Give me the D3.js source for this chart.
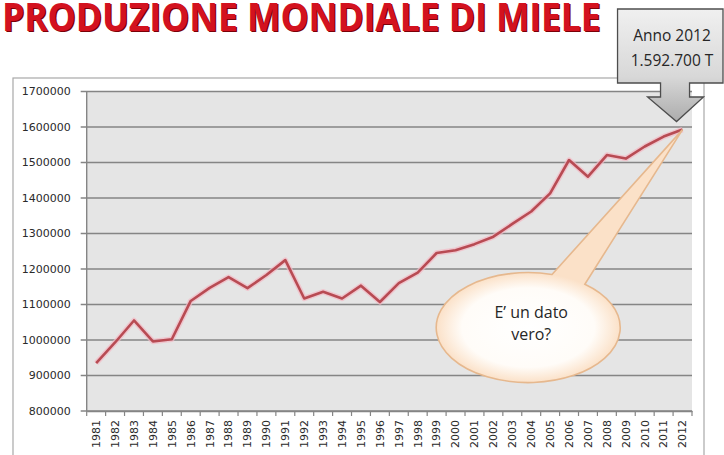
<!DOCTYPE html>
<html lang="it">
<head>
    <meta charset="utf-8">
    <title>Produzione mondiale di miele</title>
    <script src="https://d3js.org/d3.v7.min.js"></script>
    <style>
        body { margin: 0; background: #fff; }
        svg { display: block; }
        .title { font-family: "Open Sans", sans-serif; font-weight: 700; font-size: 40px; }
        .tick-label { font-family: "DejaVu Sans", sans-serif; font-size: 11px; fill: #2a2a2a; }
        .callout { font-family: "Open Sans", sans-serif; font-size: 15.5px; fill: #262626; }
    </style>
</head>
<body>
<svg id="chart"></svg>

<script>
    // years on the x axis
    const years = ["1981", "1982", "1983", "1984", "1985", "1986", "1987", "1988",
                   "1989", "1990", "1991", "1992", "1993", "1994", "1995", "1996",
                   "1997", "1998", "1999", "2000", "2001", "2002", "2003", "2004",
                   "2005", "2006", "2007", "2008", "2009", "2010", "2011", "2012"];

    // world honey production (tonnes)
    const production = [935000, 993000, 1055000, 996000, 1002000, 1110000, 1147000, 1177000,
                        1146000, 1183000, 1225000, 1117000, 1136000, 1117000, 1153000, 1107000,
                        1160000, 1190000, 1245000, 1253000, 1270000, 1291000, 1327000, 1362000,
                        1413000, 1507000, 1460000, 1521000, 1511000, 1545000, 1573000, 1592700];

    // y tick values
    const yTicks = [800000, 900000, 1000000, 1100000, 1200000, 1300000,
                    1400000, 1500000, 1600000, 1700000];

    const titleText = "PRODUZIONE MONDIALE DI MIELE";
    const calloutLines = ["Anno 2012", "1.592.700 T"];
    const bubbleLines = ["E\u2019 un dato", "vero?"];

    const W = 724, H = 455;
    const plot = {left: 86.7, right: 692, top: 91.5, bottom: 411};

    const svg = d3.select("#chart").attr("width", W).attr("height", H);

    const x = d3.scaleBand().domain(years).range([plot.left, plot.right]);
    const y = d3.scaleLinear().domain([800000, 1700000]).range([plot.bottom, plot.top]);
    const cx = d => x(d) + x.bandwidth() / 2;

    const defs = svg.append("defs");
    const boxGrad = defs.append("linearGradient").attr("id", "boxGrad")
        .attr("x1", 0).attr("y1", 0).attr("x2", 0).attr("y2", 1);
    boxGrad.append("stop").attr("offset", "0%").attr("stop-color", "#f0f0f0");
    boxGrad.append("stop").attr("offset", "60%").attr("stop-color", "#d8d8d8");
    boxGrad.append("stop").attr("offset", "100%").attr("stop-color", "#acacac");

    // title: squeezed horizontally to the width of the picture's title
    function title(fill, dx, dy) {
        const t = svg.append("text").attr("class", "title")
            .attr("fill", fill).text(titleText);
        const len = t.node().getComputedTextLength();
        t.attr("transform", `translate(${2 + dx},${31 + dy}) scale(${599 / len},1)`);
    }
    title("#7a0008", 1.2, 1.2);
    title("#d3121f", 0, 0);

    // chart frame
    svg.append("rect")
        .attr("x", 13).attr("y", 78)
        .attr("width", 691).attr("height", 400)
        .attr("fill", "#fff").attr("stroke", "#a8a8a8").attr("stroke-width", 1.2);

    // plot area
    svg.append("rect")
        .attr("x", plot.left).attr("y", plot.top)
        .attr("width", plot.right - plot.left).attr("height", plot.bottom - plot.top)
        .attr("fill", "#e5e5e5");

    // gridlines + y ticks
    svg.append("g").selectAll("line").data(yTicks).join("line")
        .attr("x1", plot.left - 6).attr("x2", plot.right)
        .attr("y1", d => y(d)).attr("y2", d => y(d))
        .attr("stroke", "#858585").attr("stroke-width", 1.4);

    svg.append("g").selectAll("text").data(yTicks).join("text")
        .attr("class", "tick-label")
        .attr("x", plot.left - 16).attr("y", d => y(d))
        .attr("dy", "0.35em").attr("text-anchor", "end")
        .text(d => d);

    // axes lines
    svg.append("line")
        .attr("x1", plot.left).attr("x2", plot.left)
        .attr("y1", plot.top).attr("y2", plot.bottom)
        .attr("stroke", "#858585").attr("stroke-width", 1.4);

    const xAxis = d3.axisBottom(x).tickSize(0).tickFormat("");
    svg.append("g").attr("transform", `translate(0,${plot.bottom})`).call(xAxis)
        .call(g => g.select(".domain").attr("stroke", "#858585").attr("stroke-width", 1.4));

    // x ticks between categories
    const bounds = years.map(d => x(d)).concat([plot.right]);
    svg.append("g").selectAll("line").data(bounds).join("line")
        .attr("x1", d => d).attr("x2", d => d)
        .attr("y1", plot.bottom).attr("y2", plot.bottom + 5)
        .attr("stroke", "#858585").attr("stroke-width", 1.2);

    svg.append("g").selectAll("text").data(years).join("text")
        .attr("class", "tick-label")
        .attr("transform", d => `translate(${cx(d)},${plot.bottom + 9}) rotate(-90)`)
        .attr("dy", "0.35em").attr("text-anchor", "end")
        .text(d => d);

    // the line
    const series = years.map((d, i) => ({year: d, value: production[i]}));
    const line = d3.line().x(d => cx(d.year)).y(d => y(d.value));

    svg.append("path").datum(series)
        .attr("d", line).attr("fill", "none")
        .attr("stroke", "#f3b9c4").attr("stroke-width", 5.5).attr("stroke-opacity", 0.7)
        .attr("stroke-linejoin", "round");
    svg.append("path").datum(series)
        .attr("d", line).attr("fill", "none")
        .attr("stroke", "#b84b53").attr("stroke-width", 2.6)
        .attr("stroke-linejoin", "round");

    // speech bubble pointing at the last value
    const last = series[series.length - 1];
    const tip = [cx(last.year), y(last.value)];
    const bc = [cx("2004") - 3, y(1035000)];
    const rx = 92, ry = 55;

    // elliptical gradient centred on the bubble: white inside, peach at the rim
    const bubbleGrad = defs.append("radialGradient").attr("id", "bubbleGrad")
        .attr("gradientUnits", "userSpaceOnUse")
        .attr("cx", bc[0]).attr("cy", bc[1]).attr("r", rx)
        .attr("gradientTransform",
              `translate(${bc[0]},${bc[1]}) scale(1,${ry / rx}) translate(${-bc[0]},${-bc[1]})`);
    bubbleGrad.append("stop").attr("offset", "0%").attr("stop-color", "#ffffff");
    bubbleGrad.append("stop").attr("offset", "72%").attr("stop-color", "#fffcf8");
    bubbleGrad.append("stop").attr("offset", "100%").attr("stop-color", "#fbe1c8");

    const onEllipse = a => [bc[0] + rx * Math.cos(a), bc[1] + ry * Math.sin(a)];
    const p1 = onEllipse(-75 * Math.PI / 180);
    const p2 = onEllipse(-52 * Math.PI / 180);
    svg.append("path")
        .attr("d", `M${p1[0]},${p1[1]} L${tip[0]},${tip[1]} L${p2[0]},${p2[1]} ` +
                   `A${rx},${ry} 0 1 1 ${p1[0]},${p1[1]} Z`)
        .attr("fill", "url(#bubbleGrad)")
        .attr("stroke", "#e6b88e").attr("stroke-width", 1.6);

    svg.append("g").selectAll("text").data(bubbleLines).join("text")
        .attr("class", "callout")
        .attr("x", bc[0] + 3).attr("y", (d, i) => bc[1] - 10 + i * 22)
        .attr("text-anchor", "middle")
        .style("font-size", "16px")
        .text(d => d);

    // down-arrow callout at the top right
    const at = [tip[0] - 6, tip[1] - 8];        // arrow point
    const boxL = at[0] - 59, boxR = 723, boxT = 9, boxB = 83;
    const stemL = at[0] - 16, stemR = at[0] + 13, headL = at[0] - 29, headR = at[0] + 27, headT = 97;
    const arrow = [
        [boxL, boxT], [boxR, boxT], [boxR, boxB], [stemR, boxB], [stemR, headT],
        [headR, headT], at, [headL, headT], [stemL, headT], [stemL, boxB], [boxL, boxB]
    ];
    svg.append("path")
        .attr("d", d3.line()(arrow) + "Z")
        .attr("fill", "url(#boxGrad)")
        .attr("stroke", "#4d4d4d").attr("stroke-width", 1.3);

    svg.append("g").selectAll("text").data(calloutLines).join("text")
        .attr("class", "callout")
        .attr("x", 672).attr("y", (d, i) => 41 + i * 25)
        .attr("text-anchor", "middle")
        .text(d => d);
</script>
</body>
</html>
